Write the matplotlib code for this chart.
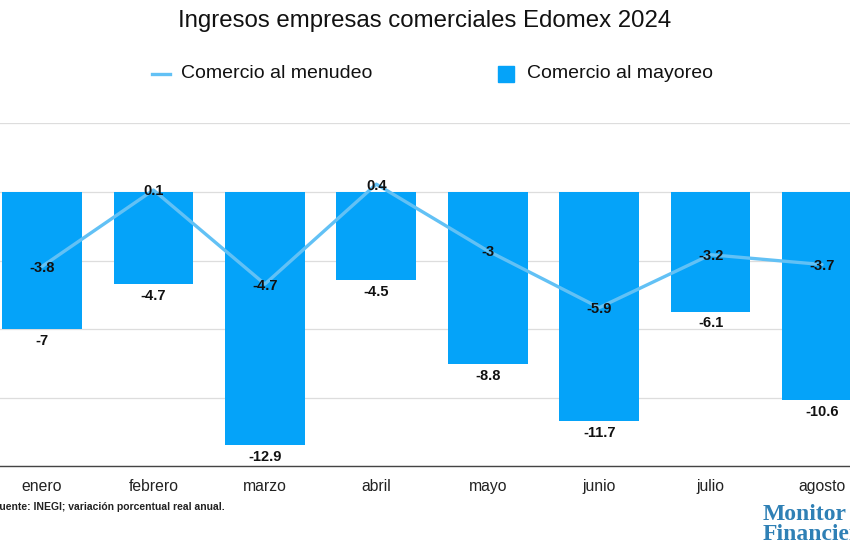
import matplotlib
matplotlib.use("Agg")
import matplotlib.pyplot as plt
from matplotlib.lines import Line2D
from matplotlib.patches import Rectangle

months = ["enero", "febrero", "marzo", "abril", "mayo", "junio", "julio", "agosto"]
menudeo = [-3.8, 0.1, -4.7, 0.4, -3.0, -5.9, -3.2, -3.7]
mayoreo = [-7.0, -4.7, -12.9, -4.5, -8.8, -11.7, -6.1, -10.6]
yticks = [-14, -10.5, -7, -3.5, 0, 3.5]

bar_color = "#05A3F9"
line_color = "#62C1F5"

plt.rcParams['font.family'] = ['Liberation Sans', 'DejaVu Sans']

W, H = 850, 550
fig = plt.figure(figsize=(8.5, 5.5), dpi=100)
fig.patch.set_facecolor("white")

# axes spans beyond figure edges (cropped reference)
left_px = 42 - 55.7
right_px = 822 + 55.7
top_px, bot_px = 123.4, 466.4
ax = fig.add_axes([left_px / W, 1 - bot_px / H, (right_px - left_px) / W, (bot_px - top_px) / H])

x = list(range(len(months)))
ax.bar(x, mayoreo, width=0.715, color=bar_color, zorder=2)
ax.plot(x, menudeo, color=line_color, lw=2.4, zorder=3, solid_capstyle="round")

def fmt(v):
    return f"{v:g}"

for xi, v in zip(x, mayoreo):
    ax.annotate(fmt(v), (xi, v), xytext=(0, -8.5), textcoords="offset points",
                ha="center", va="center", fontsize=10.5, fontweight="bold", color="#111111", zorder=4)
for xi, v in zip(x, menudeo):
    ax.annotate(fmt(v), (xi, v), xytext=(0, -1), textcoords="offset points",
                ha="center", va="center", fontsize=10.5, fontweight="bold", color="#111111", zorder=4)

ax.set_xlim(-0.5, len(months) - 0.5)
ax.set_ylim(-14, 3.5)
ax.set_yticks(yticks)
ax.tick_params(axis="y", left=False, labelleft=False)
ax.set_xticks(x)
ax.set_xticklabels(months, fontsize=11.3, color="#222222")
ax.tick_params(axis="x", length=0, pad=9)
ax.grid(axis="y", color="#DDDDDD", lw=0.9, zorder=0)
for s in ["top", "right", "left"]:
    ax.spines[s].set_visible(False)
ax.spines["bottom"].set_color("#444444")
ax.spines["bottom"].set_linewidth(1.0)
ax.set_axisbelow(True)

# title
fig.text(425 / W, 1 - 21 / H, "Ingresos empresas comerciales Edomex 2024",
         ha="center", va="center", fontsize=17.3, color="#111111")

# legend (manual)
ly = 1 - 74 / H
fig.add_artist(Line2D([152 / W, 170 / W], [ly, ly], color=line_color, lw=2.4, transform=fig.transFigure))
fig.text(181 / W, ly, "Comercio al menudeo", ha="left", va="center", fontsize=14, color="#111111")
fig.add_artist(Rectangle((498 / W, 1 - 82 / H), 16 / W, 16 / H, color=bar_color, transform=fig.transFigure))
fig.text(527 / W, ly, "Comercio al mayoreo", ha="left", va="center", fontsize=14, color="#111111")

# source
fig.text(-7 / W, 1 - 507 / H, "Fuente: INEGI; variación porcentual real anual.",
         ha="left", va="center", fontsize=7.5, fontweight="bold", color="#222222")

# logo text
fig.text(763 / W, 1 - 514 / H, "Monitor", ha="left", va="center", fontsize=17,
         fontweight="bold", family="Liberation Serif", color="#2F80B5")
fig.text(763 / W, 1 - 534 / H, "Financiero", ha="left", va="center", fontsize=17,
         fontweight="bold", family="Liberation Serif", color="#2F80B5")

fig.savefig("out.png", dpi=100, facecolor="white")
